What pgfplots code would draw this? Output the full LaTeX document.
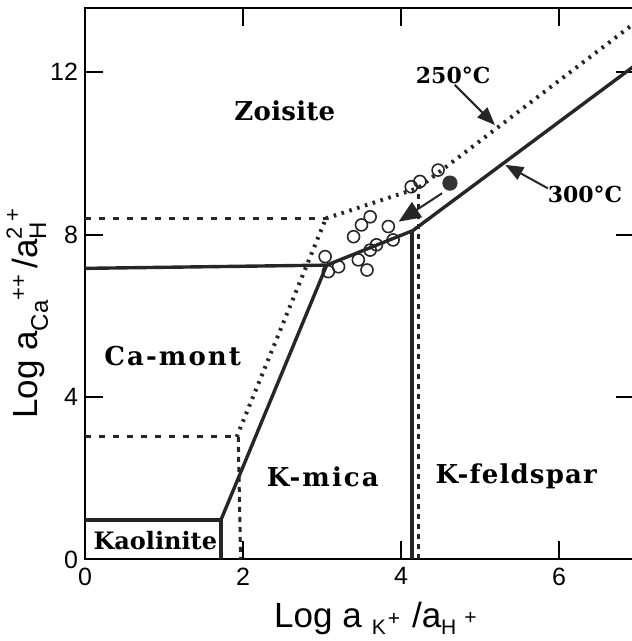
\documentclass[border=0pt]{standalone}
\usepackage{pgfplots}
\pgfplotsset{compat=1.18}
\usepackage{fontspec}
\setsansfont{Liberation Sans}
\newfontfamily\labfont{DejaVu Serif}
\usetikzlibrary{arrows.meta}
\tikzset{
  solidb/.style={black!85, line width=1.7pt, line join=round},
  dashh/.style={black!85, line width=1.6pt, dash pattern=on 3pt off 4pt},
  dashv/.style={black!85, line width=1.5pt, dash pattern=on 2.5pt off 2.5pt},
  dotd/.style={black!85, line width=2pt, dash pattern=on 1.3pt off 2.8pt},
  lab/.style={font=\labfont\bfseries\fontsize{13}{15}\selectfont, anchor=center},
}
\begin{document}
\begin{tikzpicture}
\begin{axis}[
  scale only axis, width=274.5pt, height=275.9pt,
  xmin=0, xmax=6.95, ymin=0, ymax=13.59,
  xtick={0,2,4,6}, ytick={0,4,8,12},
  tick align=inside, major tick length=9pt,
  tick style={line width=1pt, black},
  axis line style={line width=1pt},
  ticklabel style={font=\sffamily\fontsize{12.5}{14}\selectfont},
  /pgf/number format/assume math mode=true,
  xticklabel style={yshift=-0.5pt},
  clip=false,
]
% 300 C boundaries (solid)
\addplot[solidb] coordinates {(0,0.97) (1.72,0.97) (1.72,0)};
\addplot[solidb] coordinates {(1.72,0.97) (3.06,7.25)};
\addplot[solidb] coordinates {(0,7.17) (3.06,7.25) (4.15,8.10) (6.95,12.15)};
\addplot[solidb] coordinates {(4.14,0) (4.14,8.10)};
% 250 C boundaries (dashed / dotted)
\addplot[dashh] coordinates {(0,8.40) (3.05,8.40)};
\addplot[dashh] coordinates {(0,3.02) (1.92,3.02)};
\addplot[dotd] coordinates {(1.92,3.02) (3.05,8.40)};
\addplot[dotd] coordinates {(3.05,8.40) (4.22,9.15) (6.95,13.20)};
\addplot[dashv] coordinates {(1.94,3.02) (1.97,0)};
\addplot[dashv] coordinates {(4.22,0) (4.22,9.15)};
% arrows
\addplot[black!85, line width=1pt, -{Triangle[length=9pt,width=7pt]}] coordinates {(4.68,11.69) (5.19,10.70)};
\addplot[black!85, line width=1pt, -{Triangle[length=9pt,width=7pt]}] coordinates {(5.86,9.14) (5.32,9.72)};
\addplot[black!85, line width=1pt, -{Triangle[length=11pt,width=9pt]}] coordinates {(4.52,9.02) (3.97,8.32)};
% samples
\addplot[only marks, mark=o, mark size=3pt, mark options={line width=0.8pt, fill=white, draw=black!85}] coordinates {
(4.47,9.59) (4.24,9.31) (4.13,9.18) (3.61,8.44) (3.50,8.24) (3.40,7.95)
(3.84,8.20) (3.90,7.87) (3.69,7.75) (3.61,7.62) (3.46,7.38) (3.57,7.13)
(3.21,7.21) (3.08,7.09) (3.04,7.46)};
\addplot[only marks, mark=*, mark size=3.6pt, mark options={fill=black!80, draw=black!80}] coordinates {(4.62,9.27)};
% labels
\node[lab] at (axis cs:2.53,11.04) {\addfontfeature{LetterSpace=1}Zoisite};
\node[lab] at (axis cs:1.11,5.00) {\addfontfeature{LetterSpace=8}Ca-mont};
\node[lab] at (axis cs:3.01,2.04) {\addfontfeature{LetterSpace=8}K-mica};
\node[lab] at (axis cs:5.46,2.04) {\addfontfeature{LetterSpace=4.5}K-feldspar};
\node[lab, font=\labfont\bfseries\fontsize{12}{14}\selectfont] at (axis cs:0.89,0.46) {Kaolinite};
\node[lab, font=\labfont\bfseries\fontsize{11}{13}\selectfont] at (axis cs:4.66,11.93) {250°C};
\node[lab, font=\labfont\bfseries\fontsize{11}{13}\selectfont] at (axis cs:6.33,8.98) {300°C};
% axis titles
\node[anchor=base west, inner sep=0pt, font=\sffamily\fontsize{17.5}{20}\selectfont] at (axis cs:2.39,-1.68)
  {Log a\hspace{5pt}\raisebox{-3.5pt}{\fontsize{10.5}{12}\selectfont K}\hspace{1pt}\raisebox{1pt}{\fontsize{10.5}{12}\selectfont +}\hspace{6pt}/a\raisebox{-3.5pt}{\fontsize{10.5}{12}\selectfont H}\hspace{4pt}\raisebox{1.5pt}{\fontsize{10.5}{12}\selectfont +}};
\node[anchor=base west, inner sep=0pt, rotate=90, font=\sffamily\fontsize{17.5}{20}\selectfont] at (axis cs:-0.595,3.46)
  {Log a\raisebox{-5pt}{\fontsize{12}{13}\selectfont Ca}\raisebox{6pt}{\fontsize{11}{12}\selectfont ++}\hspace{3pt}/a\raisebox{8pt}{\fontsize{11}{12}\selectfont 2}\hspace{-6pt}\raisebox{-4pt}{\fontsize{12}{13}\selectfont H}\raisebox{9pt}{\fontsize{11}{12}\selectfont +}};
\end{axis}
\pgfresetboundingbox
\useasboundingbox (-42.5pt,-40.75pt) rectangle (273pt,279.75pt);
\end{tikzpicture}
\end{document}
